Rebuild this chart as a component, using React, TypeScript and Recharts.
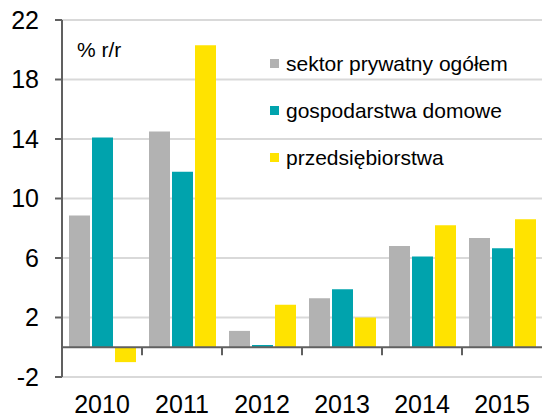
import React from "react";
import { BarChart, Bar, XAxis, YAxis, CartesianGrid, Legend, ReferenceLine } from "recharts";

const years = ["2010", "2011", "2012", "2013", "2014", "2015"];
const sektorPrywatny = [8.85, 14.5, 1.1, 3.3, 6.8, 7.35];
const gospodarstwa = [14.1, 11.8, 0.15, 3.9, 6.1, 6.65];
const przedsiebiorstwa = [-1.0, 20.3, 2.85, 2.0, 8.2, 8.6];
const yTicks = [-2, 2, 6, 10, 14, 18, 22];

const seriesNames = ["sektor prywatny ogółem", "gospodarstwa domowe", "przedsiębiorstwa"];
const colors = ["#b2b2b2", "#00a3ad", "#ffe300"];

const data = years.map((y, i) => ({
  year: y,
  s1: sektorPrywatny[i],
  s2: gospodarstwa[i],
  s3: przedsiebiorstwa[i],
}));

const FONT = "'Liberation Sans', Arial, sans-serif";
const AXIS = "#606060";

const ZeroLine = (props: any) => {
  const { x1, x2, y1 } = props;
  const n = years.length;
  const step = (x2 - x1) / n;
  const ticks = [];
  for (let i = 1; i < n; i++) {
    const x = x1 + step * i;
    ticks.push(<line key={i} x1={x} x2={x} y1={y1} y2={y1 + 8} stroke={AXIS} strokeWidth={2} />);
  }
  return (
    <g>
      <line x1={x1} x2={x2} y1={y1} y2={y1} stroke={AXIS} strokeWidth={2} />
      {ticks}
    </g>
  );
};

const LegendContent = (props: any) => {
  const items = [...(props.payload || [])].sort(
    (a: any, b: any) => seriesNames.indexOf(a.value) - seriesNames.indexOf(b.value)
  );
  return (
    <div style={{ fontFamily: FONT, fontSize: 21, color: "#000" }}>
      {items.map((p: any, i: number) => (
        <div key={i} style={{ display: "flex", alignItems: "center", height: 47, whiteSpace: "nowrap" }}>
          <span style={{ display: "inline-block", width: 9, height: 9, background: p.color, marginRight: 7 }} />
          <span>{p.value}</span>
        </div>
      ))}
    </div>
  );
};

export default function App() {
  return (
    <div style={{ position: "absolute", left: 0, top: 0, width: 542, height: 418, background: "#fff" }}>
      <BarChart
        width={542}
        height={418}
        data={data}
        margin={{ top: 20, right: 0, left: 0, bottom: 0 }}
        barSize={21}
        barGap={2}
      >
        <CartesianGrid horizontal={true} vertical={false} stroke="#d9d9d9" strokeWidth={2} />
        <XAxis
          dataKey="year"
          height={41}
          axisLine={false}
          tickLine={false}
          tickSize={0}
          tickMargin={18}
          tick={{ fontFamily: FONT, fontSize: 25, fill: "#000" }}
          interval={0}
        />
        <YAxis
          domain={[-2, 22]}
          ticks={yTicks}
          width={62}
          axisLine={{ stroke: AXIS, strokeWidth: 2 }}
          tickLine={{ stroke: AXIS, strokeWidth: 2 }}
          tickSize={7}
          tickMargin={16}
          tick={{ fontFamily: FONT, fontSize: 25, fill: "#000" }}
          interval={0}
        />
        <Legend
          layout="vertical"
          align="center"
          verticalAlign="middle"
          itemSorter={null as any}
          wrapperStyle={{ position: "absolute", left: 270, top: 40, width: "auto" }}
          content={<LegendContent />}
        />
        <Bar dataKey="s1" name={seriesNames[0]} fill={colors[0]} isAnimationActive={false} />
        <Bar dataKey="s2" name={seriesNames[1]} fill={colors[1]} isAnimationActive={false} />
        <Bar dataKey="s3" name={seriesNames[2]} fill={colors[2]} isAnimationActive={false} />
        <ReferenceLine y={0} shape={<ZeroLine />} />
      </BarChart>
      <div style={{ position: "absolute", left: 77, top: 38, fontFamily: FONT, fontSize: 21, color: "#000" }}>% r/r</div>
    </div>
  );
}
